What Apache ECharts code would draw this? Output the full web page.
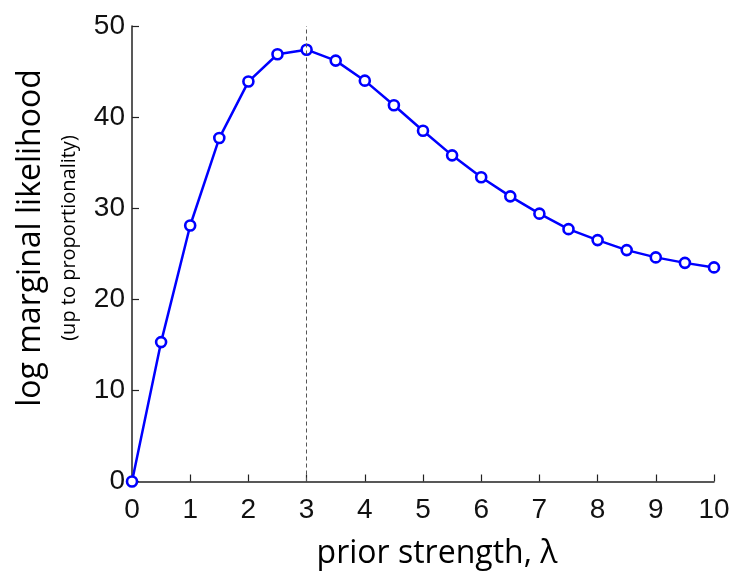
<!DOCTYPE html>
<html><head><meta charset="utf-8">
<script src="https://cdn.jsdelivr.net/npm/echarts@6/dist/echarts.min.js"></script>
<style>html,body{margin:0;padding:0;background:#fff}#c{width:734px;height:572px}</style>
</head><body><div id="c"></div>
<script>
const lambdas = [0,0.5,1,1.5,2,2.5,3,3.5,4,4.5,5,5.5,6,6.5,7,7.5,8,8.5,9,9.5,10];
const logML = [0,15.3,28.1,37.7,43.9,46.9,47.4,46.2,44.0,41.3,38.5,35.8,33.4,31.3,29.4,27.7,26.5,25.4,24.6,24.0,23.5];
const peakLambda = 3;
const xTitle = 'prior strength, λ';
const yTitle = 'log marginal likelihood';
const ySubtitle = '(up to proportionality)';

const chart = echarts.init(document.getElementById('c'));
chart.setOption({
  animation: false,
  grid: {left: 132, right: 20, top: 26, bottom: 90.5},
  xAxis: {
    type: 'value', min: 0, max: 10, interval: 1,
    axisLine: {show: true, onZero: false, lineStyle: {color: '#222', width: 1.5}},
    axisTick: {show: true, inside: true, length: 7, lineStyle: {color: '#222', width: 1.2}},
    axisLabel: {color: '#111', fontSize: 28, fontFamily: 'Liberation Sans', margin: 15},
    splitLine: {show: false}
  },
  yAxis: {
    type: 'value', min: 0, max: 50, interval: 10,
    axisLine: {show: true, onZero: false, lineStyle: {color: '#222', width: 1.5}},
    axisTick: {show: true, inside: true, length: 7, lineStyle: {color: '#222', width: 1.2}},
    axisLabel: {color: '#111', fontSize: 28, fontFamily: 'Liberation Sans', margin: 7},
    splitLine: {show: false}
  },
  graphic: [
    {type: 'text', x: 31, y: 238, rotation: Math.PI/2,
     style: {text: yTitle, fontSize: 32, fontFamily: 'Open Sans', fill: '#000', align: 'center', verticalAlign: 'middle'}},
    {type: 'text', x: 69, y: 238, rotation: Math.PI/2,
     style: {text: ySubtitle, fontSize: 20, fontFamily: 'Open Sans', fill: '#000', align: 'center', verticalAlign: 'middle'}},
    {type: 'text', x: 437, y: 554,
     style: {text: xTitle, fontSize: 32, fontFamily: 'Open Sans', fill: '#000', align: 'center', verticalAlign: 'middle'}}
  ],
  series: [{
    type: 'line',
    data: lambdas.map((x, i) => [x, logML[i]]),
    symbol: 'circle', symbolSize: 10, showAllSymbol: true,
    lineStyle: {color: '#0000ff', width: 2.5},
    itemStyle: {color: '#ffffff', borderColor: '#0000ff', borderWidth: 2.6},
    z: 3,
    markLine: {
      silent: true, symbol: 'none', label: {show: false},
      lineStyle: {color: '#555', type: [4, 3], width: 1},
      data: [[{coord: [peakLambda, 0]}, {coord: [peakLambda, 50]}]]
    }
  }]
});
</script></body></html>
